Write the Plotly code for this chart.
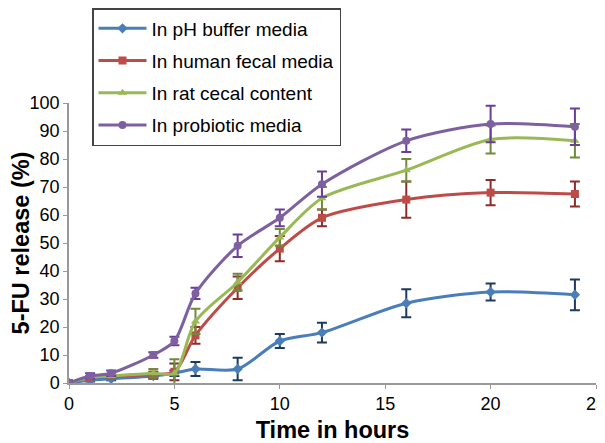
import plotly.graph_objects as go

time_h = [0, 1, 2, 4, 5, 6, 8, 10, 12, 16, 20, 24]
x_ticks = [0, 5, 10, 15, 20, 25]
y_ticks = [0, 10, 20, 30, 40, 50, 60, 70, 80, 90, 100]

names = ["In pH buffer media", "In human fecal media", "In rat cecal content", "In probiotic media"]

ph_buffer = [0, 1, 1.5, 2.5, 3.5, 5, 5, 15, 18, 28.5, 32.5, 31.5]
ph_buffer_err = [0.5, 0.5, 0.5, 1, 1, 2.5, 4, 2.5, 3.5, 5, 3, 5.5]

human_fecal = [0, 2, 2.5, 3, 4, 17, 34, 48, 59, 65.5, 68, 67.5]
human_fecal_err = [0.5, 0.5, 0.5, 1, 3, 3, 4, 4.5, 3, 6.5, 4.5, 4.5]

rat_cecal = [0, 2, 2.5, 3.5, 3.5, 22, 36, 52, 66, 76, 87, 86.5]
rat_cecal_err = [0.5, 0.5, 0.5, 1.5, 5, 4.5, 3, 3, 4, 4, 5, 6]

probiotic = [0, 2.5, 3.5, 10, 15, 32, 49, 59, 71, 86.5, 92.5, 91.5]
probiotic_err = [0.5, 1, 1, 1, 1.5, 2, 4, 3, 4.5, 4, 6.5, 6.5]

series = [ph_buffer, human_fecal, rat_cecal, probiotic]
errors = [ph_buffer_err, human_fecal_err, rat_cecal_err, probiotic_err]
colors = ["#4a7ebb", "#be4b48", "#98b954", "#7d60a0"]
err_colors = ["#1f3a5f", "#8c2d2b", "#6f8b3a", "#6a3d9a"]
symbols = ["diamond", "square", "triangle-up", "circle"]

fig = go.Figure()
for i in range(4):
    fig.add_trace(go.Scatter(
        x=time_h, y=series[i], name=names[i], mode="lines+markers",
        line=dict(color=colors[i], width=3, shape="spline", smoothing=0.8),
        marker=dict(symbol=symbols[i], size=8, color=colors[i]),
        error_y=dict(type="data", array=errors[i], color=err_colors[i], thickness=2, width=5),
        legendgroup=f"g{i}",
    ))

fam = "Liberation Sans, Arial, sans-serif"
fig.update_layout(
    width=597, height=435,
    margin=dict(l=61, r=9, t=95, b=60, autoexpand=False),
    plot_bgcolor="white", paper_bgcolor="white",
    font=dict(family=fam, size=18, color="#000000"),
    showlegend=True,
    legend=dict(
        x=(84 - 61) / 527, y=(375 + 0) / 280, xanchor="left", yanchor="top",
        bordercolor="#444444", borderwidth=1.5, bgcolor="white",
        font=dict(family=fam, size=19, color="#000000"),
        tracegroupgap=4.5, traceorder="grouped",
        itemwidth=48, entrywidth=262,
    ),
    xaxis=dict(
        range=[0, 25], tickmode="array", tickvals=x_ticks, ticklabeloverflow="allow",
        showgrid=False, zeroline=False,
        showline=True, linecolor="#999999", linewidth=1.5,
        ticks="outside", ticklen=4, tickcolor="#999999",
        title=dict(text="<b>Time in hours</b>", font=dict(size=23.5), standoff=10),
        automargin=False,
    ),
    yaxis=dict(
        range=[0, 100], tickmode="array", tickvals=y_ticks,
        showgrid=False, zeroline=False,
        showline=True, linecolor="#999999", linewidth=1.5,
        ticks="outside", ticklen=4, tickcolor="#999999",
        title=dict(text="<b>5-FU release (%)</b>", font=dict(size=23.5), standoff=0),
        automargin=False,
    ),
)

fig.write_html("out.html")
